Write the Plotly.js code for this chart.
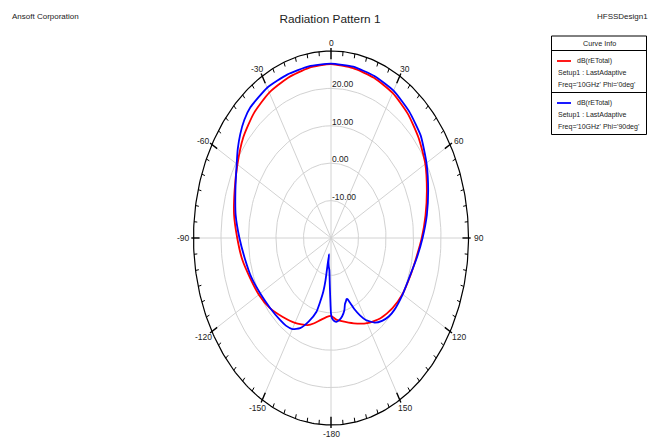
<!DOCTYPE html>
<html><head><meta charset="utf-8">
<script src="https://cdn.plot.ly/plotly-3.0.1.min.js"></script>
<style>html,body{margin:0;padding:0;background:#fff}#chart{width:657px;height:442px}</style>
</head><body><div id="chart"></div>
<script>
// ---------- data (angles in degrees, values in dB) ----------
const redAngles = [-180,-175,-170,-165,-160,-150,-140,-130,-120,-110,-100,-90,-80,-70,-60,-50,-40,-30,-20,-10,0,10,20,30,40,50,60,70,80,90,100,110,120,130,140,150,160,170,175,180];
const redDb     = [0.8,1.3,2.3,3.6,4.8,6.2,7.5,9.1,10.3,11.3,12.8,14.1,15.8,17.3,19.3,21.7,23.6,24.9,25.6,26.2,26.5,26.1,25.6,24.8,23.4,21.6,19.6,17.1,14.9,13.0,11.4,10.5,10.0,9.2,8.0,6.3,4.3,2.6,1.9,0.8];

const blueAngles = [-180,-179,-178,-176,-174,-172,-170.5,-170,-169,-167,-165,-160,-155,-150,-145,-140,-130,-120,-110,-100,-90,-80,-70,-60,-55,-50,-45,-40,-30,-20,-10,0,10,20,30,40,50,60,70,80,90,100,110,120,130,135,140,145,150,153,156,158,160,161,162,164,166,169,172,175,177,179,180];
const blueDb     = [0.2,-4.1,-7.5,-11.4,-12.3,-13.5,-15.6,-8.5,-5.5,-2.5,0.4,3.8,6.6,8.1,8.6,8.7,9.0,9.7,10.8,11.8,13.3,15.2,17.0,19.6,21.4,23.1,24.6,25.6,26.4,26.5,26.6,26.6,26.5,26.1,25.5,24.2,22.6,20.1,17.6,15.4,13.3,11.6,10.4,10.1,10.0,9.7,8.9,7.6,5.3,3.2,0.8,-1.2,-2.6,-2.7,-2.3,-1.6,0.0,1.3,2.1,2.5,2.2,1.5,0.2];

const ringValues = [-10, 0, 10, 20];
const ringLabels = ['-10.00', '0.00', '10.00', '20.00'];
const angleTicks = [0, 30, 60, 90, 120, 150, 180, -150, -120, -90, -60, -30];
const angleLabels = ['0', '30', '60', '90', '120', '150', '-180', '-150', '-120', '-90', '-60', '-30'];
const rMin = -20, rMax = 30;
const seriesNames = ['dB(rETotal)', 'dB(rETotal)'];
const seriesSetup = ['Setup1 : LastAdaptive', 'Setup1 : LastAdaptive'];
const seriesFreq = ["Freq='10GHz' Phi='0deg'", "Freq='10GHz' Phi='90deg'"];

// ---------- geometry ----------
const W = 657, H = 442, CX = 331, CY = 238, XPX = 2.75, YPX = 3.74;
const R = rMax - rMin;
const FONT = 'Liberation Sans, Arial, sans-serif';
function pol(theta, r) { const t = theta * Math.PI / 180; return [r * Math.sin(t), r * Math.cos(t)]; }
function curve(angles, db) {
  const x = [], y = [];
  angles.forEach((a, i) => { const p = pol(a, db[i] - rMin); x.push(p[0]); y.push(p[1]); });
  return { x, y };
}
const px = v => v / W, py = v => 1 - v / H;

const traces = [];
// rings
const gx = [], gy = [];
ringValues.forEach(v => {
  for (let a = 0; a <= 360; a += 2) { const p = pol(a, v - rMin); gx.push(p[0]); gy.push(p[1]); }
  gx.push(null); gy.push(null);
});
// spokes
for (let a = 0; a < 360; a += 30) { const p = pol(a, R); gx.push(0, p[0], null); gy.push(0, p[1], null); }
traces.push({ x: gx, y: gy, mode: 'lines', line: { color: '#d2d2d2', width: 1 }, hoverinfo: 'skip' });

// outer boundary
const ox = [], oy = [];
for (let a = 0; a <= 360; a += 1) { const p = pol(a, R); ox.push(p[0]); oy.push(p[1]); }
traces.push({ x: ox, y: oy, mode: 'lines', line: { color: '#000', width: 1.2 }, hoverinfo: 'skip' });

// ticks
const tx = [], ty = [], mx = [], my = [];
for (let a = 0; a < 360; a += 5) {
  if (a % 30 === 0) {
    const p1 = pol(a, R - 2.2), p2 = pol(a, R + 0.8);
    mx.push(p1[0], p2[0], null); my.push(p1[1], p2[1], null);
  } else {
    const p1 = pol(a, R - 1.2), p2 = pol(a, R);
    tx.push(p1[0], p2[0], null); ty.push(p1[1], p2[1], null);
  }
}
traces.push({ x: tx, y: ty, mode: 'lines', line: { color: '#000', width: 1 }, hoverinfo: 'skip' });
traces.push({ x: mx, y: my, mode: 'lines', line: { color: '#000', width: 1.4 }, hoverinfo: 'skip' });

// data curves
const rc = curve(redAngles, redDb), bc = curve(blueAngles, blueDb);
traces.push({ x: rc.x, y: rc.y, mode: 'lines', name: seriesFreq[0], line: { color: '#ff0000', width: 1.8, shape: 'spline', smoothing: 0.6 } });
traces.push({ x: bc.x, y: bc.y, mode: 'lines', name: seriesFreq[1], line: { color: '#0000ff', width: 1.8, shape: 'spline', smoothing: 0.5 } });

// annotations
const ann = [];
ringValues.forEach((v, i) => {
  ann.push({ x: 0, y: v - rMin, xref: 'x', yref: 'y', text: ringLabels[i], showarrow: false,
    xanchor: 'left', yanchor: 'middle', yshift: 4, xshift: -1, font: { family: FONT, size: 8.5, color: '#222' } });
});
angleTicks.forEach((a, i) => {
  const p = pol(a, R); const t = a * Math.PI / 180;
  ann.push({ x: p[0], y: p[1], xref: 'x', yref: 'y', text: angleLabels[i], showarrow: false,
    xanchor: 'center', yanchor: 'middle', xshift: 10 * Math.sin(t), yshift: 8 * Math.cos(t) - (Math.cos(t) < 0 ? 1 : 0),
    font: { family: FONT, size: 8.5, color: '#222' } });
});
ann.push({ x: px(10), y: py(17), xref: 'paper', yref: 'paper', text: 'Ansoft Corporation', showarrow: false,
  xanchor: 'left', yanchor: 'middle', font: { family: FONT, size: 8, color: '#222' } });
ann.push({ x: px(650), y: py(17), xref: 'paper', yref: 'paper', text: 'HFSSDesign1', showarrow: false,
  xanchor: 'right', yanchor: 'middle', font: { family: FONT, size: 8, color: '#222' } });
// legend box content
const legTop = 36, legL = 551.5, legR = 646.5, header = 14.5, period = 42;
ann.push({ x: px((legL + legR) / 2), y: py(43.5), xref: 'paper', yref: 'paper', text: 'Curve Info', showarrow: false,
  xanchor: 'center', yanchor: 'middle', font: { family: FONT, size: 7.2, color: '#222' } });
const shapes = [
  { type: 'rect', xref: 'paper', yref: 'paper', x0: px(legL), x1: px(legR), y0: py(legTop), y1: py(legTop + header + 2 * period), line: { color: '#000', width: 1 }, fillcolor: 'rgba(0,0,0,0)' },
  { type: 'line', xref: 'paper', yref: 'paper', x0: px(legL), x1: px(legR), y0: py(legTop + header), y1: py(legTop + header), line: { color: '#000', width: 1 } },
  { type: 'line', xref: 'paper', yref: 'paper', x0: px(legL), x1: px(legR), y0: py(legTop + header + period), y1: py(legTop + header + period), line: { color: '#000', width: 1 } }
];
const colors = ['#ff0000', '#0000ff'];
for (let k = 0; k < 2; k++) {
  const base = legTop + header + k * period;
  shapes.push({ type: 'line', xref: 'paper', yref: 'paper', x0: px(557), x1: px(571), y0: py(base + 10.5), y1: py(base + 10.5), line: { color: colors[k], width: 1.8 } });
  ann.push({ x: px(575), y: py(base + 10.5), xref: 'paper', yref: 'paper', text: seriesNames[k], showarrow: false,
    xanchor: 'left', yanchor: 'middle', font: { family: FONT, size: 7, color: '#222' } });
  ann.push({ x: px(556), y: py(base + 23), xref: 'paper', yref: 'paper', text: seriesSetup[k], showarrow: false,
    xanchor: 'left', yanchor: 'middle', font: { family: FONT, size: 7, color: '#222' } });
  ann.push({ x: px(556), y: py(base + 34.5), xref: 'paper', yref: 'paper', text: seriesFreq[k], showarrow: false,
    xanchor: 'left', yanchor: 'middle', font: { family: FONT, size: 7, color: '#222' } });
}

const layout = {
  width: W, height: H, margin: { l: 0, r: 0, t: 0, b: 0 },
  paper_bgcolor: '#fff', plot_bgcolor: '#fff', showlegend: false, hovermode: false,
  title: { text: 'Radiation Pattern 1', x: 330 / W, xref: 'paper', xanchor: 'center', y: 1 - 19 / H, yref: 'container', yanchor: 'middle',
    font: { family: FONT, size: 11.8, color: '#222' } },
  xaxis: { range: [-CX / XPX, (W - CX) / XPX], visible: false, fixedrange: true },
  yaxis: { range: [-(H - CY) / YPX, CY / YPX], visible: false, fixedrange: true },
  annotations: ann, shapes: shapes
};
Plotly.newPlot('chart', traces, layout, { staticPlot: true, displayModeBar: false });
</script></body></html>
